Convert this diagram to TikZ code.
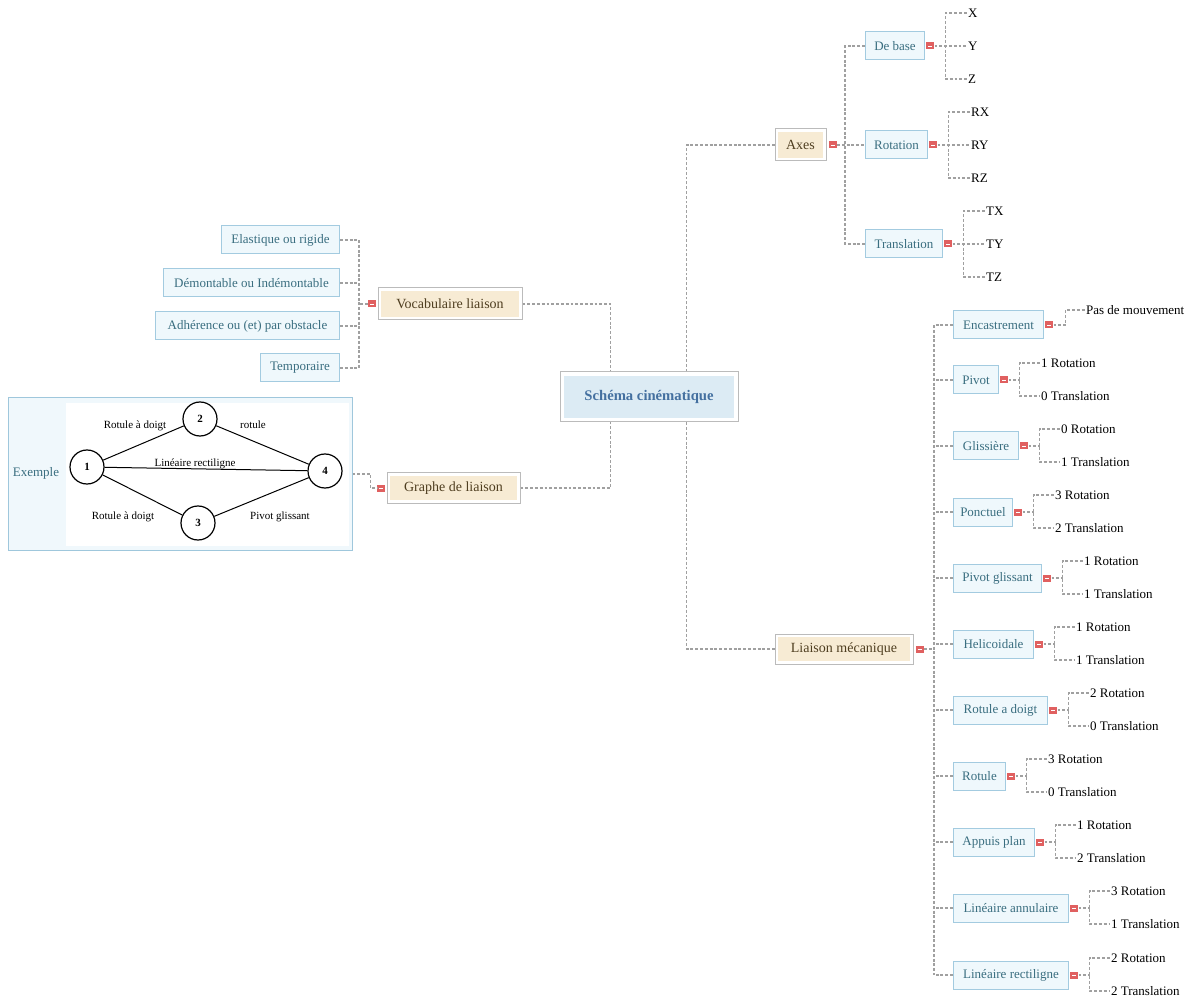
\documentclass[tikz,border=0pt]{standalone}
\usepackage{fontspec}
\setmainfont{Liberation Serif}
\usetikzlibrary{calc}
\definecolor{dlc}{HTML}{A0A0A0}
\definecolor{childfill}{HTML}{EFF8FC}
\definecolor{childborder}{HTML}{A3CBE0}
\definecolor{childtext}{HTML}{3A6E80}
\definecolor{mainborder}{HTML}{BBBBBB}
\definecolor{mainfill}{HTML}{F7EBD4}
\definecolor{maintext}{HTML}{4F3E20}
\definecolor{centerfill}{HTML}{DCEBF4}
\definecolor{centertext}{HTML}{4470A0}
\definecolor{btnred}{HTML}{E06060}
\definecolor{exfill}{HTML}{F0F8FC}
\definecolor{exborder}{HTML}{9FC7DC}
\begin{document}
\begin{tikzpicture}[x=0.75pt,y=-0.75pt,
  dl/.style={draw=dlc, line width=0.9pt, dash pattern=on 2.2pt off 1.4pt},
  childbox/.style={draw=childborder, fill=childfill, text=childtext, line width=0.75pt,
    font=\fontsize{9.75}{11}\selectfont, minimum height=21pt, inner xsep=2pt, inner ysep=0pt},
  leaf/.style={anchor=west, inner sep=1pt, font=\fontsize{9.75}{11}\selectfont, text=black},
  btn/.style={fill=btnred, minimum width=6pt, minimum height=5.25pt, inner sep=0pt,
    path picture={\draw[white, line width=0.6pt] ([xshift=-1.6pt]path picture bounding box.center) -- ([xshift=1.6pt]path picture bounding box.center);}},
  mainouter/.style={draw=mainborder, fill=white, line width=0.75pt, inner sep=0pt},
  maininner/.style={fill=mainfill, text=maintext, inner sep=0pt, font=\fontsize{10.5}{12}\selectfont},
  gnode/.style={circle, draw=black, line width=0.9pt, fill=white, minimum size=25.5pt, inner sep=0pt, font=\bfseries\fontsize{8.25}{10}\selectfont},
  glabel/.style={inner sep=0.5pt, font=\fontsize{8.25}{10}\selectfont},
  gedge/.style={draw=black, line width=0.75pt}
]
\useasboundingbox (0,0) rectangle (1189,998);

% ---------- centre ----------
\node[mainouter, minimum width=178*0.75pt, minimum height=50*0.75pt] (C) at (649,397) {};
\node[fill=centerfill, text=centertext, minimum width=170*0.75pt, minimum height=42*0.75pt, inner sep=0pt,
  font=\bfseries\fontsize{11}{13}\selectfont] (Ct) at (C) {Schéma cinématique};

% ---------- main branches ----------
\node[mainouter, minimum width=144*0.75pt, minimum height=32*0.75pt] (V) at (450,304) {};
\node[maininner, minimum width=138*0.75pt, minimum height=26*0.75pt] (Vt) at (V) {Vocabulaire liaison};

\node[mainouter, minimum width=133*0.75pt, minimum height=30*0.75pt] (G) at (453.5,488) {};
\node[maininner, minimum width=127*0.75pt, minimum height=24*0.75pt] (Gt) at (G) {Graphe de liaison};

\node[mainouter, minimum width=51*0.75pt, minimum height=32*0.75pt] (A) at (800.5,145) {};
\node[maininner, minimum width=45*0.75pt, minimum height=26*0.75pt] (At) at (A) {Axes};

\node[mainouter, minimum width=138*0.75pt, minimum height=30*0.75pt] (L) at (844,649) {};
\node[maininner, minimum width=132*0.75pt, minimum height=24*0.75pt] (Lt) at (L) {Liaison mécanique};

\draw[dl] (V.east) -| ($(C.north west)+(51,0)$);
\draw[dl] ($(C.north west)+(127,0)$) |- (A.west);
\draw[dl] (G.east) -| ($(C.south west)+(51,0)$);
\draw[dl] ($(C.south west)+(127,0)$) |- (L.west);

% ---------- Vocabulaire liaison ----------
\node[btn, anchor=east] (VB) at ([xshift=-0.75pt]V.west) {};
\node[childbox, anchor=east, minimum width=118*0.75pt] (V1) at (340,240) {Elastique ou rigide};
\node[childbox, anchor=east, minimum width=176*0.75pt] (V2) at (340,283) {Démontable ou Indémontable};
\node[childbox, anchor=east, minimum width=184*0.75pt] (V3) at (340,326) {Adhérence ou (et) par obstacle};
\node[childbox, anchor=east, minimum width=79*0.75pt] (V4) at (340,368) {Temporaire};
\draw[dl] (V1.east) -- ++(19,0) coordinate (VT1);
\draw[dl] (V2.east) -- ++(19,0);
\draw[dl] (V3.east) -- ++(19,0);
\draw[dl] (V4.east) -- ++(19,0) coordinate (VT4);
\draw[dl] (VT1) -- (VT4);
\draw[dl] (VB.west) -- (VB.west -| VT1);

% ---------- Graphe de liaison ----------
\node[draw=exborder, fill=exfill, line width=0.75pt, minimum width=344*0.75pt, minimum height=152*0.75pt, inner sep=0pt] (E) at (180,474) {};
\node[fill=white, minimum width=283*0.75pt, minimum height=143*0.75pt, inner sep=0pt] (EW) at (207.5,474.5) {};
\node[text=childtext, font=\fontsize{9.75}{11}\selectfont] (Ex) at (36,473) {Exemple};
\node[btn, anchor=east] (GB) at ([xshift=-0.75pt]G.west) {};
\draw[dl] (E.east) -- ++(18,0) |- (GB.west);

\node[gnode] (g1) at (87,467) {1};
\node[gnode] (g2) at (200,419) {2};
\node[gnode] (g3) at (198,523) {3};
\node[gnode] (g4) at (325,471) {4};
\draw[gedge] (g1) -- (g2);
\draw[gedge] (g2) -- (g4);
\draw[gedge] (g1) -- (g4);
\draw[gedge] (g1) -- (g3);
\draw[gedge] (g3) -- (g4);
\node[glabel] (l12) at (135,426) {Rotule à doigt};
\node[glabel] (l24) at (253,425) {rotule};
\node[glabel] (l14) at (195,464) {Linéaire rectiligne};
\node[glabel] (l13) at (123,517) {Rotule à doigt};
\node[glabel] (l34) at (280,517) {Pivot glissant};

% ---------- Axes ----------
\node[btn, anchor=west] (AB) at ([xshift=1.5pt]A.east) {};
\node[childbox, anchor=west, minimum width=59*0.75pt] (DB) at (865,46) {De base};
\node[childbox, anchor=west, minimum width=62*0.75pt] (RO) at (865,145) {Rotation};
\node[childbox, anchor=west, minimum width=77*0.75pt] (TR) at (865,244) {Translation};
\draw[dl] (AB.east) -- (RO.west);
\draw[dl] (DB.west) -- ++(-20,0) |- (TR.west);
\foreach \n/\a/\b/\c in {DB/X/Y/Z, RO/RX/RY/RZ, TR/TX/TY/TZ}{
  \node[btn, anchor=west] (\n-b) at ([xshift=0.75pt]\n.east) {};
  \coordinate (\n-t) at ([xshift=8.25pt]\n-b.east);
  \node[leaf] (\n-1) at ($(\n-t)+(21,-33)$) {\a};
  \node[leaf] (\n-2) at ($(\n-t)+(21,0)$) {\b};
  \node[leaf] (\n-3) at ($(\n-t)+(21,33)$) {\c};
  \draw[dl] (\n-b.east) -- (\n-2.west);
  \draw[dl] (\n-1.west) -| (\n-t) |- (\n-3.west);
}

% ---------- Liaison mecanique ----------
\node[btn, anchor=west] (LB) at ([xshift=1.5pt]L.east) {};
\node[childbox, anchor=west, minimum width=90*0.75pt] (L0) at (953,325) {Encastrement};
\node[btn, anchor=west] (LB0) at ([xshift=0.75pt]L0.east) {};
\coordinate (LT0) at ([xshift=9pt]LB0.east);
\node[leaf] (LA0) at ($(LT0)+(19,-15)$) {Pas de mouvement};
\draw[dl] (LB0.east) -- (LT0) |- (LA0.west);

\foreach \i/\y/\w/\txt/\a/\b in {
  1/380/45/Pivot/1 Rotation/0 Translation,
  2/446/65/Glissière/0 Rotation/1 Translation,
  3/512/59/Ponctuel/3 Rotation/2 Translation,
  4/578/88/Pivot glissant/1 Rotation/1 Translation,
  5/644/80/Helicoidale/1 Rotation/1 Translation,
  6/710/94/Rotule a doigt/2 Rotation/0 Translation,
  7/776/52/Rotule/3 Rotation/0 Translation,
  8/842/81/Appuis plan/1 Rotation/2 Translation,
  9/908/115/Linéaire annulaire/3 Rotation/1 Translation,
  10/975/115/Linéaire rectiligne/2 Rotation/2 Translation}{
  \node[childbox, anchor=west, minimum width=\w*0.75pt] (L\i) at (953,\y) {\txt};
  \node[btn, anchor=west] (LB\i) at ([xshift=0.75pt]L\i.east) {};
  \coordinate (LT\i) at ([xshift=8.25pt]LB\i.east);
  \node[leaf] (LA\i) at ($(LT\i)+(20,-17)$) {\a};
  \node[leaf] (LC\i) at ($(LT\i)+(20,16)$) {\b};
  \draw[dl] (LB\i.east) -- (LT\i);
  \draw[dl] (LA\i.west) -| (LT\i) |- (LC\i.west);
}
\foreach \i in {0,...,10}{
  \draw[dl] (L\i.west) -- ++(-19,0);
}
\draw[dl] ($(L0.west)+(-19,0)$) -- ($(L10.west)+(-19,0)$);
\draw[dl] (LB.east) -- ($(LB.east -| L1.west)+(-19,0)$);
\end{tikzpicture}
\end{document}
